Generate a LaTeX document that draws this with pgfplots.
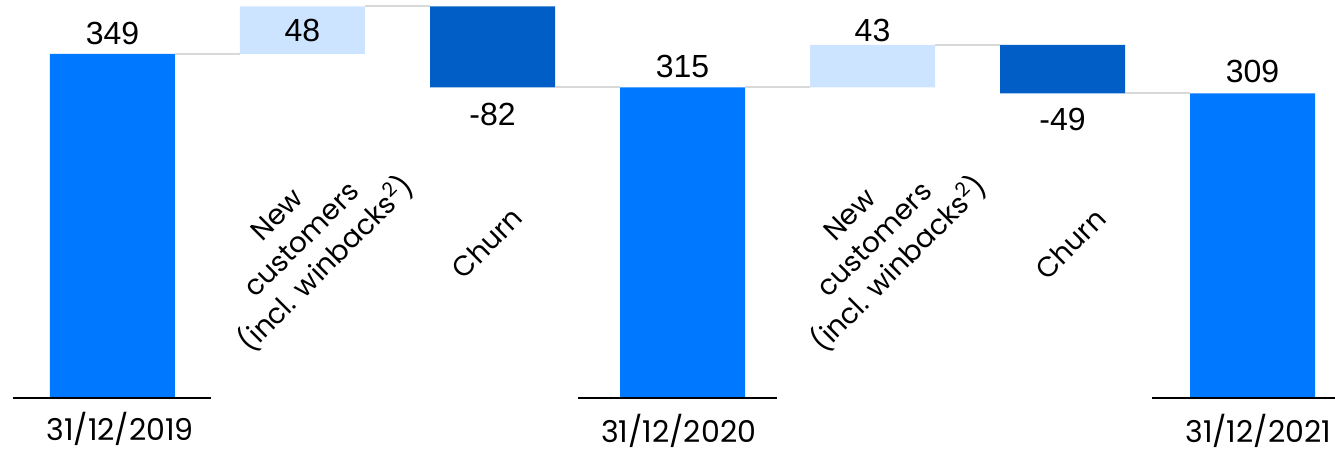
\documentclass[border=0pt]{standalone}
\usepackage{pgfplots}
\pgfplotsset{compat=1.18}
\usepackage{fontspec}
\setmainfont{Poppins}
\newfontfamily\arial{Liberation Sans}
\definecolor{totalblue}{HTML}{0078FF}
\definecolor{incblue}{HTML}{CCE4FF}
\definecolor{decblue}{HTML}{005EC6}
\definecolor{conngray}{HTML}{D9D9D9}
\pgfplotsset{common/.style={
  width=667.5pt, height=225pt, scale only axis,
  xmin=-0.592, xmax=6.434, ymin=-52.7, ymax=403.6,
  hide axis, clip=false}}
\begin{document}
\begin{tikzpicture}
\begin{axis}[common, ybar stacked, bar width=62.5pt]
\addplot[draw=none, fill=none] coordinates {(0,0)(1,349)(2,315)(3,0)(4,315)(5,309)(6,0)};
\addplot[fill=totalblue, draw=none] coordinates {(0,349)(1,0)(2,0)(3,315)(4,0)(5,0)(6,309)};
\addplot[fill=incblue, draw=none] coordinates {(0,0)(1,48)(2,0)(3,0)(4,43)(5,0)(6,0)};
\addplot[fill=decblue, draw=none] coordinates {(0,0)(1,0)(2,82)(3,0)(4,0)(5,49)(6,0)};
\end{axis}
\begin{axis}[common]
\addplot[conngray, line width=1pt, unbounded coords=jump] coordinates {
 (0.329,349)(0.671,349)(0.671,nan)
 (1.329,397)(1.671,397)(1.671,nan)
 (2.329,315)(2.671,315)(2.671,nan)
 (3.329,315)(3.671,315)(3.671,nan)
 (4.329,358)(4.671,358)(4.671,nan)
 (5.329,309)(5.671,309)};
\addplot[black, line width=1pt, unbounded coords=jump] coordinates {
 (-0.524,0)(0.518,0)(0.518,nan)
 (2.45,0)(3.497,0)(3.497,nan)
 (5.47,0)(6.434,0)};
\begin{scope}[every node/.style={font=\arial\fontsize{16}{18}\selectfont}]
\node at (axis cs:0,370) {349};
\node at (axis cs:1,373) {48};
\node at (axis cs:2,287) {-82};
\node at (axis cs:3,335.7) {315};
\node at (axis cs:4,373) {43};
\node at (axis cs:5,282) {-49};
\node at (axis cs:6,330.6) {309};
\end{scope}
\begin{scope}[every node/.style={font=\fontsize{15}{17}\selectfont}]
\node at (axis cs:0.04,-31) {31/12/2019};
\node at (axis cs:2.98,-33.5) {31/12/2020};
\node at (axis cs:6.03,-33.5) {31/12/2021};
\end{scope}
\begin{scope}[every node/.style={font=\fontsize{14}{17.5}\selectfont, rotate=45, align=center}]
\node at (axis cs:1.003,159) {New\\customers\\(incl. winbacks\textsuperscript{2})};
\node at (axis cs:1.971,157) {Churn};
\node at (axis cs:4.018,159) {New\\customers\\(incl. winbacks\textsuperscript{2})};
\node at (axis cs:5.04,156) {Churn};
\end{scope}
\end{axis}
\pgfresetboundingbox
\path (current axis.south west) rectangle (current axis.north east);
\end{tikzpicture}
\end{document}
